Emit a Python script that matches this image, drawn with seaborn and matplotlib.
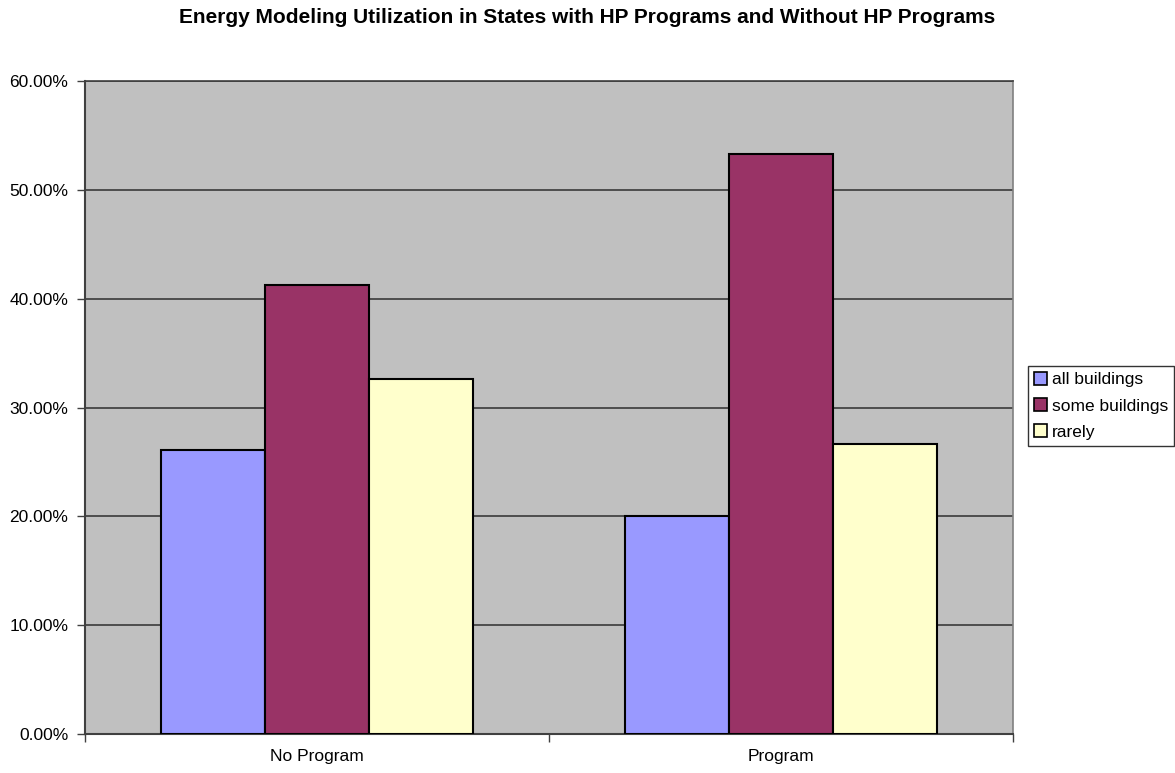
import matplotlib
matplotlib.use("Agg")
import matplotlib.pyplot as plt
import seaborn as sns
import pandas as pd
from matplotlib.ticker import FuncFormatter, FixedLocator

groups = ["No Program", "Program"]
series = ["all buildings", "some buildings", "rarely"]
no_program = [26.09, 41.30, 32.61]
program = [20.00, 53.33, 26.67]
colors = ["#9999FF", "#993366", "#FFFFCC"]
y_ticks = [0, 10, 20, 30, 40, 50, 60]

rows = []
for s, a, b in zip(series, no_program, program):
    rows.append({"group": groups[0], "usage": s, "share": a})
    rows.append({"group": groups[1], "usage": s, "share": b})
df = pd.DataFrame(rows)

sns.set_theme(style="white")
plt.rcParams["font.family"] = ["Liberation Sans", "DejaVu Sans"]
plt.rcParams["text.color"] = "black"
plt.rcParams["xtick.color"] = "black"
plt.rcParams["ytick.color"] = "black"

fig = plt.figure(figsize=(11.75, 7.73), dpi=100)
ax = fig.add_axes([85 / 1175, 39 / 773, 928 / 1175, 653 / 773])
ax.set_facecolor("#C0C0C0")

sns.barplot(data=df, x="group", y="share", hue="usage", order=groups,
            hue_order=series, palette=colors, width=0.672, saturation=1,
            edgecolor="black", linewidth=1.5, ax=ax, zorder=3)

ax.set_xlim(-0.5, 1.5)
ax.set_ylim(0, 60)
ax.yaxis.set_major_locator(FixedLocator(y_ticks))
ax.yaxis.set_major_formatter(FuncFormatter(lambda v, p: f"{v:.2f}%"))
ax.grid(axis="y", color="#3a3a3a", linewidth=1.2, zorder=1)
ax.set_axisbelow(True)

ax.set_xlabel("")
ax.set_ylabel("")
ax.set_xticks([0, 1])
ax.set_xticklabels(groups)
ax.set_xticks([-0.5, 0.5, 1.5], minor=True)
ax.tick_params(axis="x", which="major", length=0, pad=11, labelsize=12.5,
               labelcolor="black")
ax.tick_params(axis="x", which="minor", length=6, width=1, color="#404040",
               direction="out", bottom=True)
ax.tick_params(axis="y", which="major", length=6, width=1, color="#404040",
               direction="out", left=True, pad=6, labelsize=12.5,
               labelcolor="black")

for side in ["left", "bottom"]:
    ax.spines[side].set_color("#404040")
    ax.spines[side].set_linewidth(1.5)
ax.spines["top"].set_color("#404040")
ax.spines["top"].set_linewidth(1.2)
ax.spines["right"].set_color("#808080")
ax.spines["right"].set_linewidth(1.2)

leg = ax.legend(loc="upper left", bbox_to_anchor=(1.016, 0.5636),
                frameon=True, fancybox=False, fontsize=12.5,
                handlelength=0.75, handleheight=0.75, handletextpad=0.3,
                labelspacing=0.62, borderpad=0.35, borderaxespad=0)
leg.get_frame().set_edgecolor("black")
leg.get_frame().set_linewidth(1.0)
for t in leg.get_texts():
    t.set_color("black")
for h in leg.legend_handles:
    h.set_edgecolor("black")
    h.set_linewidth(1.2)

fig.suptitle("Energy Modeling Utilization in States with HP Programs and Without HP Programs",
             x=0.5, y=1 - 8 / 773, va="top", fontsize=15, fontweight="bold",
             color="black")

fig.savefig("out.png", dpi=100, facecolor="white")
